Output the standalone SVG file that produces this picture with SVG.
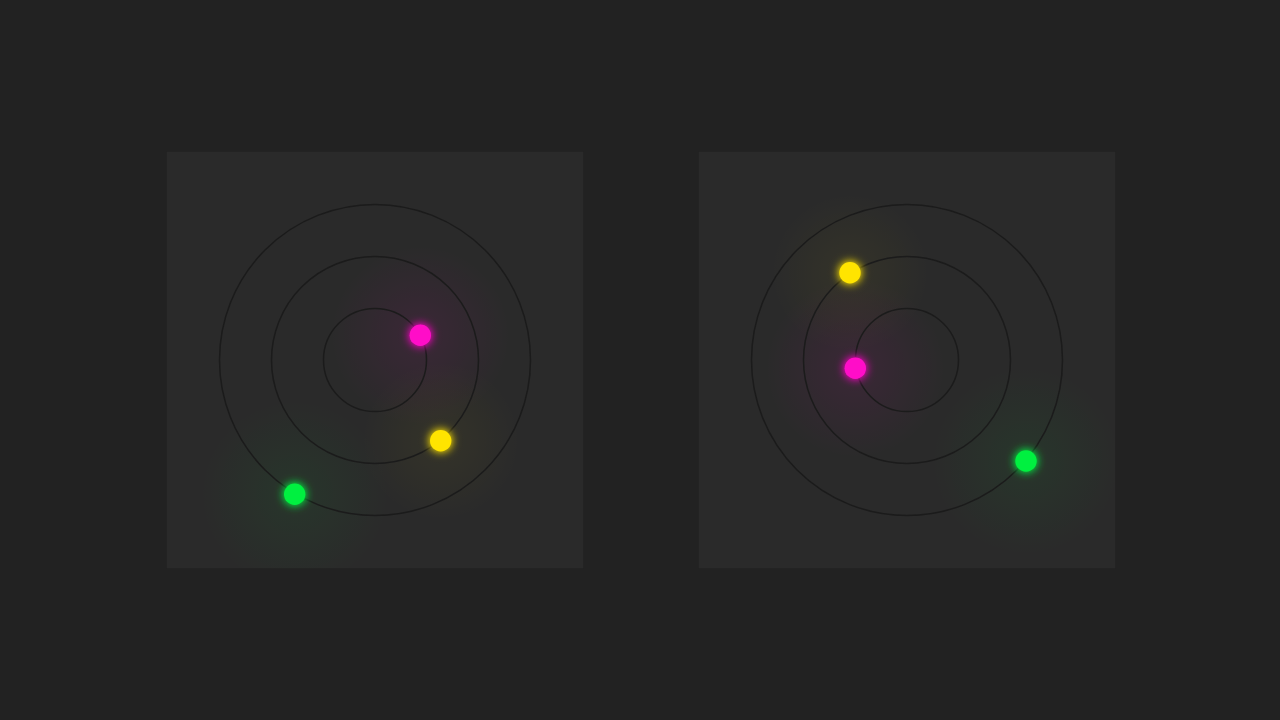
<svg xmlns="http://www.w3.org/2000/svg" width="1280" height="720" viewBox="0 0 1280 720">
<style>
.panel{fill:#2a2a2a}
.orbit{fill:none;stroke:#1b1b1b;stroke-width:1.5}
.m{fill:#ff10c8}
.y{fill:#ffe400}
.g{fill:#00f040}
</style>
<defs>
<filter id="glow" x="-150%" y="-150%" width="400%" height="400%">
<feGaussianBlur in="SourceGraphic" stdDeviation="5" result="b"/>
<feComponentTransfer in="b" result="c"><feFuncA type="linear" slope="1.3"/></feComponentTransfer>
<feMerge><feMergeNode in="c"/><feMergeNode in="SourceGraphic"/></feMerge>
</filter>
<radialGradient id="hm"><stop offset="0" stop-color="#ff00c8" stop-opacity="0.08"/><stop offset="1" stop-color="#ff00c8" stop-opacity="0"/></radialGradient>
<radialGradient id="hy"><stop offset="0" stop-color="#ffe400" stop-opacity="0.05"/><stop offset="1" stop-color="#ffe400" stop-opacity="0"/></radialGradient>
<radialGradient id="hg"><stop offset="0" stop-color="#00f040" stop-opacity="0.06"/><stop offset="1" stop-color="#00f040" stop-opacity="0"/></radialGradient>
<clipPath id="cl"><rect x="166.7" y="151.7" width="416.6" height="416.6"/></clipPath>
<clipPath id="cr"><rect x="698.7" y="151.7" width="416.6" height="416.6"/></clipPath>
</defs>
<rect width="1280" height="720" fill="#222222"/>
<g id="panel-left">
<rect class="panel" x="166.7" y="151.7" width="416.6" height="416.6"/>
<g clip-path="url(#cl)">
<circle cx="420.3" cy="335.3" r="90" fill="url(#hm)"/>
<circle cx="440.7" cy="440.7" r="80" fill="url(#hy)"/>
<circle cx="294.7" cy="494.3" r="95" fill="url(#hg)"/>
</g>
<circle class="orbit" cx="375" cy="360" r="51.5"/>
<circle class="orbit" cx="375" cy="360" r="103.5"/>
<circle class="orbit" cx="375" cy="360" r="155.5"/>
<circle id="left-magenta" class="m" cx="420.3" cy="335.3" r="10.7" filter="url(#glow)"/>
<circle id="left-yellow" class="y" cx="440.7" cy="440.7" r="10.7" filter="url(#glow)"/>
<circle id="left-green" class="g" cx="294.7" cy="494.3" r="10.7" filter="url(#glow)"/>
</g>
<g id="panel-right">
<rect class="panel" x="698.7" y="151.7" width="416.6" height="416.6"/>
<g clip-path="url(#cr)">
<circle cx="855.3" cy="368.3" r="90" fill="url(#hm)"/>
<circle cx="850" cy="272.7" r="80" fill="url(#hy)"/>
<circle cx="1026" cy="461" r="95" fill="url(#hg)"/>
</g>
<circle class="orbit" cx="907" cy="360" r="51.5"/>
<circle class="orbit" cx="907" cy="360" r="103.5"/>
<circle class="orbit" cx="907" cy="360" r="155.5"/>
<circle id="right-yellow" class="y" cx="850" cy="272.7" r="10.7" filter="url(#glow)"/>
<circle id="right-magenta" class="m" cx="855.3" cy="368.3" r="10.7" filter="url(#glow)"/>
<circle id="right-green" class="g" cx="1026" cy="461" r="10.7" filter="url(#glow)"/>
</g>
</svg>
